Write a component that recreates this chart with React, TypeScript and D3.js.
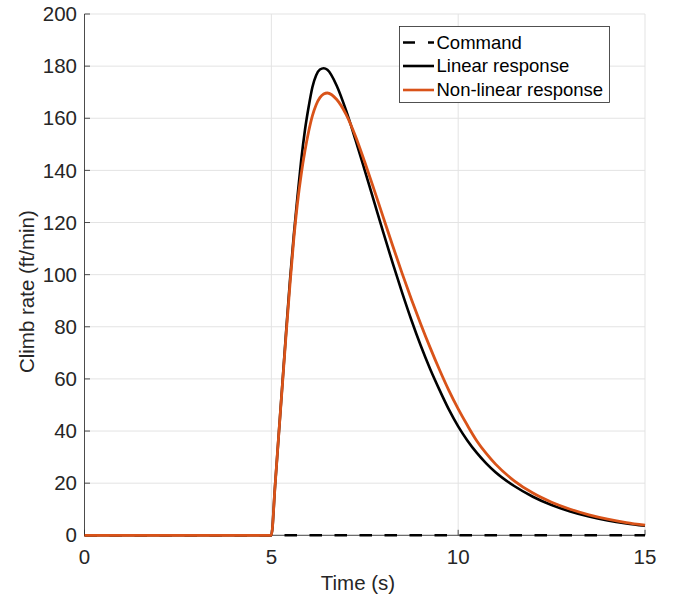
import React from "react";
import * as d3 from "d3";

const W = 673;
const H = 598;

const xTicks = [0, 5, 10, 15];
const yTicks = [0, 20, 40, 60, 80, 100, 120, 140, 160, 180, 200];

const commandT = [0, 15];
const commandV = [0, 0];

const linearT = [0, 5, 5.1, 5.2, 5.3, 5.4, 5.5, 5.6, 5.7, 5.8, 5.9, 6.0, 6.1, 6.2, 6.3, 6.4, 6.5, 6.75, 7.0, 7.25, 7.5, 7.75, 8.0, 8.25, 8.5, 8.75, 9.0, 9.25, 9.5, 9.75, 10, 10.25, 10.5, 10.75, 11, 11.5, 12, 12.5, 13, 13.5, 14, 14.5, 15];
const linearV = [0, 0, 19, 39, 59, 79, 98, 115, 130, 144, 155.5, 164.5, 172, 176.5, 178.7, 179.2, 178.6, 172.5, 163, 151.8, 140, 128, 116, 104.3, 93.1, 82.5, 72.7, 63.8, 55.8, 48.3, 41.8, 36.3, 31.6, 27.6, 24.2, 18.9, 14.8, 11.6, 9.15, 7.2, 5.7, 4.55, 3.65];

const nonlinT = [0, 5, 5.1, 5.2, 5.3, 5.4, 5.5, 5.6, 5.7, 5.8, 5.9, 6.0, 6.1, 6.2, 6.3, 6.4, 6.5, 6.75, 7.0, 7.25, 7.5, 7.75, 8.0, 8.25, 8.5, 8.75, 9.0, 9.25, 9.5, 9.75, 10, 10.25, 10.5, 10.75, 11, 11.5, 12, 12.5, 13, 13.5, 14, 14.5, 15];
const nonlinV = [0, 0, 19, 39, 58.5, 78, 96.5, 113.5, 127.5, 138.5, 147.5, 155, 161, 165.2, 167.9, 169.3, 169.7, 167.2, 161.5, 153.2, 143.2, 132.6, 121.8, 111, 100.5, 90.5, 81, 72, 63.5, 55.6, 48.5, 42.1, 36.2, 31.4, 27.3, 20.9, 16.2, 12.7, 10.0, 7.85, 6.2, 4.9, 3.9];

const legendLabels = ["Command", "Linear response", "Non-linear response"];

const FONT = "'Liberation Sans', Arial, Helvetica, sans-serif";
const AXIS = "#262626";
const GRID = "#e3e3e3";
const ORANGE = "#D95319";

export default function App() {
  const x = d3.scaleLinear().domain([0, 15]).range([84.5, 645]);
  const y = d3.scaleLinear().domain([0, 200]).range([535.3, 14]);

  const line = d3
    .line<[number, number]>()
    .x((d) => x(d[0]))
    .y((d) => y(d[1]))
    .curve(d3.curveMonotoneX);

  const cmd = line(commandT.map((t, i) => [t, commandV[i]]) as [number, number][]) || "";
  const lin = line(linearT.map((t, i) => [t, linearV[i]]) as [number, number][]) || "";
  const non = line(nonlinT.map((t, i) => [t, nonlinV[i]]) as [number, number][]) || "";

  const lx = 399.5;
  const ly = 26.5;
  const lw = 210;
  const lh = 76;
  const rowY = [42.5, 66, 90];

  return (
    <div style={{ position: "fixed", left: 0, top: 0, width: W, height: H, background: "#fff" }}>
      <svg width={W} height={H} style={{ display: "block" }} fontFamily={FONT}>
        <rect x={0} y={0} width={W} height={H} fill="#fff" />
        {/* grid */}
        {yTicks.map((t) => (
          <line key={"gy" + t} x1={x(0)} x2={x(15)} y1={y(t)} y2={y(t)} stroke={GRID} strokeWidth={1} />
        ))}
        {xTicks.map((t) => (
          <line key={"gx" + t} x1={x(t)} x2={x(t)} y1={y(0)} y2={y(200)} stroke={GRID} strokeWidth={1} />
        ))}
        {/* axes */}
        <line x1={x(0)} x2={x(0)} y1={y(0)} y2={y(200)} stroke={AXIS} strokeWidth={0.8} />
        <line x1={x(0)} x2={x(15)} y1={y(0)} y2={y(0)} stroke={AXIS} strokeWidth={0.8} />
        {yTicks.map((t) => (
          <g key={"ty" + t}>
            <line x1={x(0)} x2={x(0) + 5.5} y1={y(t)} y2={y(t)} stroke={AXIS} strokeWidth={0.8} />
            <text x={77} y={y(t)} dy="0.35em" textAnchor="end" fontSize={20.5} fill={AXIS}>
              {t}
            </text>
          </g>
        ))}
        {xTicks.map((t) => (
          <g key={"tx" + t}>
            <line x1={x(t)} x2={x(t)} y1={y(0)} y2={y(0) - 5.5} stroke={AXIS} strokeWidth={0.8} />
            <text x={x(t)} y={563.5} textAnchor="middle" fontSize={20.5} fill={AXIS}>
              {t}
            </text>
          </g>
        ))}
        <text x={358} y={590} textAnchor="middle" fontSize={20.5} fill={AXIS}>
          Time (s)
        </text>
        <text
          transform={`translate(34, ${(y(0) + y(200)) / 2 + 17}) rotate(-90)`}
          textAnchor="middle"
          fontSize={20.5}
          fill={AXIS}
        >
          Climb rate (ft/min)
        </text>
        {/* series */}
        <path d={cmd} fill="none" stroke="#000" strokeWidth={2.6} strokeDasharray="12.5 12.5" />
        <path d={lin} fill="none" stroke="#000" strokeWidth={2.6} strokeLinejoin="round" />
        <path d={non} fill="none" stroke={ORANGE} strokeWidth={2.8} strokeLinejoin="round" />
        {/* legend */}
        <rect x={lx} y={ly} width={lw} height={lh} fill="#fff" stroke={AXIS} strokeWidth={0.8} />
        {legendLabels.map((lab, i) => (
          <g key={lab}>
            <line
              x1={403}
              x2={434}
              y1={rowY[i]}
              y2={rowY[i]}
              stroke={i === 2 ? ORANGE : "#000"}
              strokeWidth={2.6}
              strokeDasharray={i === 0 ? "12 13" : undefined}
            />
            <text x={436.5} y={rowY[i]} dy="0.35em" fontSize={18.5} fill="#000">
              {lab}
            </text>
          </g>
        ))}
      </svg>
    </div>
  );
}
